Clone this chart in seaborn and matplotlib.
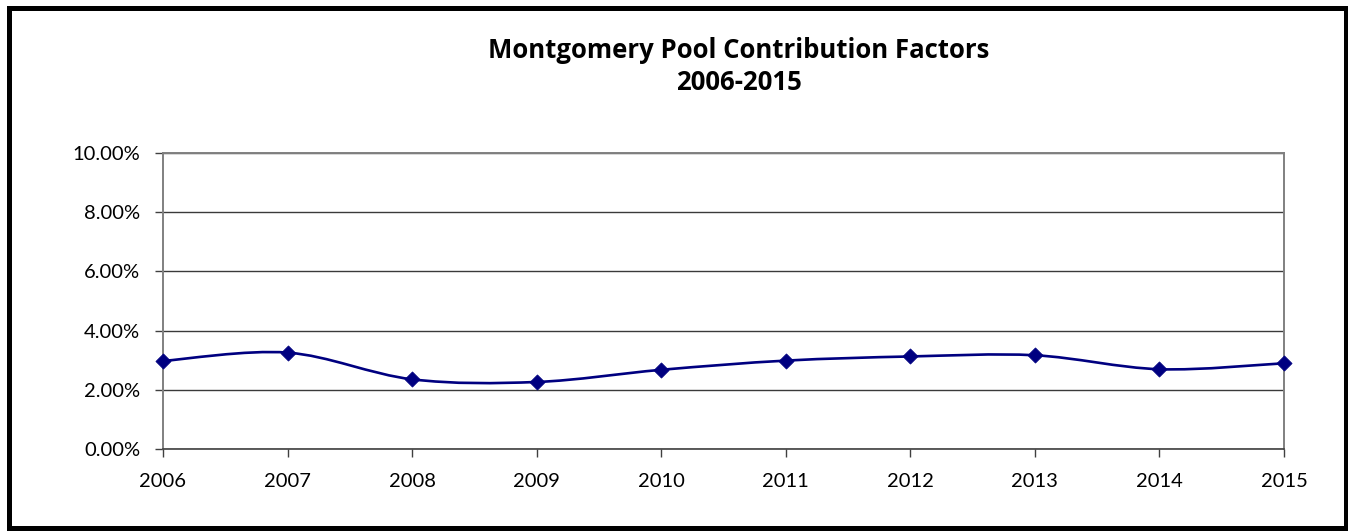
import numpy as np
import pandas as pd
import matplotlib
matplotlib.use("Agg")
import matplotlib.pyplot as plt
from matplotlib.path import Path
from matplotlib.patches import PathPatch, Rectangle
import seaborn as sns

# Chart data (contribution factor, percent)
years = [2006, 2007, 2008, 2009, 2010, 2011, 2012, 2013, 2014, 2015]
factors = [2.98, 3.26, 2.36, 2.27, 2.68, 2.99, 3.13, 3.17, 2.70, 2.90]
y_ticks = [0, 2, 4, 6, 8, 10]

df = pd.DataFrame({"year": years, "factor": factors})

sns.set_theme(style="white")
plt.rcParams["font.family"] = ["Lato", "DejaVu Sans"]
plt.rcParams["text.color"] = "black"

W, H = 1348, 531
fig = plt.figure(figsize=(W / 100, H / 100), dpi=100)
ax = fig.add_axes([163 / W, 1 - 449.3 / H, (1284 - 163) / W, (449.3 - 152.7) / H])

# Excel-style smoothed line: cubic Bezier segments with Catmull-Rom control points
x = df["year"].to_numpy(dtype=float)
y = df["factor"].to_numpy(dtype=float)
px = np.concatenate([[x[0]], x, [x[-1]]])
py = np.concatenate([[y[0]], y, [y[-1]]])
verts = [(x[0], y[0])]
codes = [Path.MOVETO]
for i in range(1, len(px) - 2):
    c1 = (px[i] + (px[i + 1] - px[i - 1]) / 6, py[i] + (py[i + 1] - py[i - 1]) / 6)
    c2 = (px[i + 1] - (px[i + 2] - px[i]) / 6, py[i + 1] - (py[i + 2] - py[i]) / 6)
    verts += [c1, c2, (px[i + 1], py[i + 1])]
    codes += [Path.CURVE4] * 3
ax.add_patch(PathPatch(Path(verts, codes), facecolor="none", edgecolor="#000080",
                       lw=1.9, zorder=3, clip_on=False))

sns.scatterplot(data=df, x="year", y="factor", marker="D", s=60, color="#000080",
                edgecolor="#000080", linewidth=0.5, zorder=4, clip_on=False, ax=ax)

ax.set_xlim(years[0], years[-1])
ax.set_ylim(0, 10)
ax.set_xticks(years)
ax.set_xticklabels([str(v) for v in years])
ax.set_yticks(y_ticks)
ax.set_yticklabels([f"{v:.2f}%" for v in y_ticks])
ax.set_xlabel("")
ax.set_ylabel("")

ax.grid(axis="y", color="#3a3a3a", lw=1.0)
ax.grid(axis="x", visible=False)
ax.set_axisbelow(True)
for side in ["left", "right", "top"]:
    ax.spines[side].set_color("#808080")
    ax.spines[side].set_linewidth(1.4)
ax.spines["bottom"].set_color("#404040")
ax.spines["bottom"].set_linewidth(1.2)
ax.tick_params(axis="both", which="both", direction="out", length=6, width=1,
               color="#404040", labelsize=14.5, labelcolor="black")
ax.tick_params(axis="y", left=True, pad=10.5)
ax.tick_params(axis="x", bottom=True, pad=11)

title_font = ["Open Sans", "DejaVu Sans"]
fig.text(739 / W, 1 - 57.5 / H, "Montgomery Pool Contribution Factors", ha="center",
         va="baseline", fontsize=18.5, fontweight="bold", family=title_font, color="black")
fig.text(739 / W, 1 - 90.5 / H, "2006-2015", ha="center", va="baseline",
         fontsize=18.5, fontweight="bold", family=title_font, color="black")

# Outer black frame
fig.patches.append(Rectangle((8.5 / W, 1 - 527.5 / H), (1346 - 8.5) / W, (527.5 - 7.5) / H,
                             transform=fig.transFigure, fill=False, edgecolor="black",
                             lw=3.6))

fig.savefig("out.png", dpi=100)
